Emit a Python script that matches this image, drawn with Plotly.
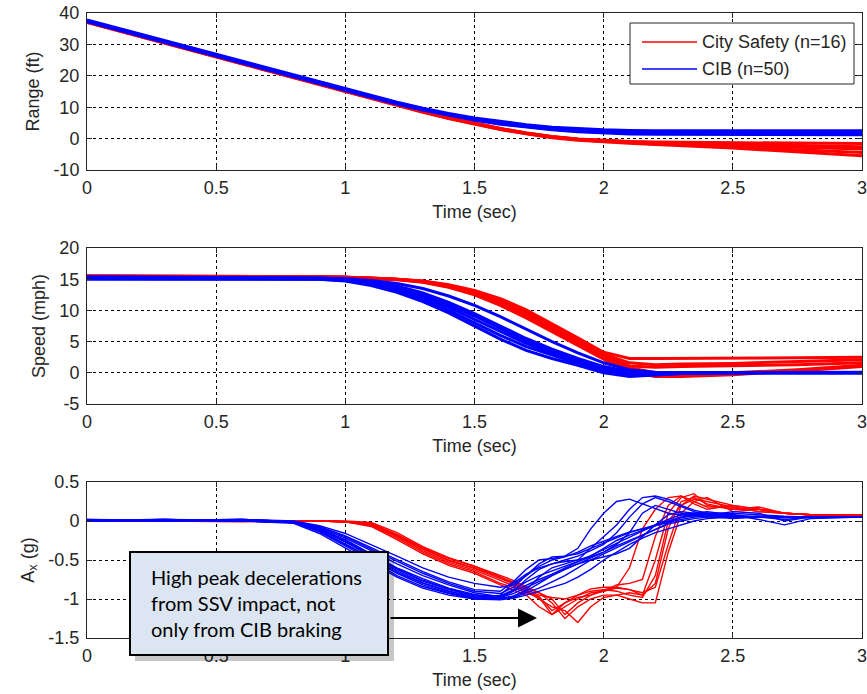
import plotly.graph_objects as go

W, H = 867, 694
OFF = 0  # body margin removed via post_script

# ---------------- data ----------------
# Range (ft)
T_RANGE = [0, 0.5, 1.0, 1.1, 1.2, 1.3, 1.4, 1.5, 1.6, 1.7, 1.8, 1.9, 2.0, 2.1, 2.2, 2.5, 3.0]
RANGE_CITY = [
    [37.3, 26.3, 15.2, 13.0, 10.8, 8.7, 6.7, 4.9, 3.2, 1.8, 0.7, -0.1, -0.6, -0.9, -1.1, -1.3, -1.6],
    [37.1, 26.1, 15.0, 12.8, 10.6, 8.5, 6.5, 4.7, 3.0, 1.6, 0.5, -0.3, -0.9, -1.2, -1.5, -2.2, -3.3],
    [37.0, 26.0, 14.9, 12.7, 10.5, 8.4, 6.4, 4.6, 2.9, 1.5, 0.3, -0.5, -1.1, -1.5, -1.9, -3.0, -5.5],
    [37.2, 26.2, 15.1, 12.9, 10.7, 8.6, 6.6, 4.8, 3.1, 1.7, 0.6, -0.2, -0.7, -1.0, -1.3, -1.8, -2.6],
    [37.3, 26.3, 15.2, 13.0, 10.8, 8.7, 6.7, 4.9, 3.2, 1.8, 0.6, -0.2, -0.8, -1.2, -1.6, -2.6, -4.4],
]
RANGE_CIB = [
    [37.2, 26.2, 15.2, 13.1, 11.0, 9.1, 7.4, 5.9, 4.6, 3.6, 2.8, 2.2, 1.8, 1.5, 1.4, 1.3, 1.2],
    [37.5, 26.5, 15.5, 13.3, 11.3, 9.4, 7.7, 6.2, 5.0, 4.0, 3.3, 2.8, 2.5, 2.3, 2.2, 2.1, 2.1],
    [37.8, 26.8, 15.8, 13.6, 11.6, 9.7, 8.0, 6.6, 5.4, 4.4, 3.6, 3.1, 2.8, 2.6, 2.5, 2.5, 2.5],
    [37.4, 26.4, 15.4, 13.2, 11.1, 9.2, 7.5, 6.0, 4.8, 3.8, 3.0, 2.4, 2.0, 1.8, 1.7, 1.7, 1.6],
]

# Speed (mph)
T_SPEED = [0, 0.5, 0.9, 1.0, 1.1, 1.2, 1.3, 1.4, 1.5, 1.6, 1.7, 1.8, 1.9, 2.0, 2.1, 2.2, 2.3, 2.5, 2.75, 3.0]
SPEED_CITY = [
    [15.5, 15.5, 15.4, 15.3, 15.2, 15.0, 14.7, 14.1, 13.2, 11.9, 10.1, 7.9, 5.6, 3.3, 2.3, 2.3, 2.3, 2.4, 2.4, 2.5],
    [15.4, 15.4, 15.3, 15.3, 15.2, 15.0, 14.6, 13.9, 12.8, 11.3, 9.4, 7.2, 5.0, 2.8, 1.1, 0.9, 1.0, 1.1, 1.3, 1.6],
    [15.5, 15.5, 15.4, 15.3, 15.1, 14.9, 14.5, 13.7, 12.5, 10.8, 8.8, 6.6, 4.3, 2.2, 0.2, -0.6, -0.6, -0.3, 0.3, 1.0],
    [15.4, 15.4, 15.4, 15.3, 15.2, 15.0, 14.7, 14.0, 12.9, 11.5, 9.7, 7.5, 5.2, 3.0, 1.6, 1.3, 1.4, 1.5, 1.8, 2.1],
    [15.5, 15.5, 15.4, 15.3, 15.2, 15.0, 14.6, 13.8, 12.6, 11.0, 9.0, 6.8, 4.6, 2.5, 0.8, 0.0, -0.3, 0.0, 0.5, 1.2],
]
SPEED_CIB = [
    [15.0, 15.0, 15.0, 14.7, 14.0, 12.9, 11.4, 9.6, 7.5, 5.4, 3.6, 2.3, 1.2, 0.0, -0.6, -0.3, -0.1, 0.0, 0.0, 0.0],
    [15.2, 15.2, 15.1, 14.9, 14.3, 13.4, 12.1, 10.5, 8.6, 6.6, 4.7, 3.1, 1.8, 0.6, -0.1, -0.2, 0.0, 0.0, 0.0, 0.0],
    [15.4, 15.3, 15.2, 15.0, 14.6, 13.9, 12.8, 11.3, 9.5, 7.5, 5.5, 3.8, 2.3, 1.0, 0.2, 0.0, 0.0, 0.1, 0.1, 0.1],
    [15.3, 15.3, 15.2, 15.1, 14.8, 14.3, 13.5, 12.3, 10.8, 9.0, 7.0, 5.0, 3.2, 1.6, 0.5, 0.1, 0.0, 0.0, 0.0, 0.0],
    [15.1, 15.1, 15.0, 14.8, 14.2, 13.2, 11.8, 10.0, 8.0, 6.0, 4.2, 2.8, 1.5, 0.3, -0.4, -0.3, -0.1, 0.0, 0.0, 0.0],
    [15.2, 15.2, 15.1, 14.9, 14.4, 13.6, 12.4, 10.9, 9.1, 7.1, 5.1, 3.4, 2.0, 0.8, 0.0, -0.2, 0.0, 0.0, 0.0, 0.0],
]

# Longitudinal acceleration Ax (g)
T_ACCEL = [0, 0.3, 0.6, 0.8, 0.9, 1.0, 1.1, 1.2, 1.3, 1.4, 1.5, 1.6, 1.65, 1.7, 1.75, 1.8, 1.85,
           1.9, 1.95, 2.0, 2.05, 2.1, 2.15, 2.2, 2.25, 2.3, 2.35, 2.4, 2.5, 2.6, 2.7, 2.8, 3.0]
ACCEL_CITY = [
    [0.0, 0.0, 0.0, 0.0, 0.0, -0.01, -0.04, -0.18, -0.35, -0.5, -0.6, -0.72, -0.78, -0.86, -0.92, -1.0, -1.2,
     -1.05, -0.95, -0.9, -0.86, -0.88, -0.95, -0.5, 0.1, 0.3, 0.35, 0.2, 0.15, 0.18, 0.1, 0.08, 0.08],
    [0.0, 0.0, -0.01, 0.0, 0.0, -0.01, -0.05, -0.2, -0.38, -0.53, -0.63, -0.76, -0.83, -0.9, -0.97, -1.15, -1.05,
     -0.95, -0.87, -0.85, -0.85, -0.6, -0.1, 0.15, 0.3, 0.32, 0.22, 0.15, 0.2, 0.15, 0.1, 0.08, 0.08],
    [0.0, 0.0, 0.0, 0.0, 0.0, 0.0, -0.02, -0.15, -0.33, -0.47, -0.58, -0.7, -0.76, -0.84, -0.92, -1.05, -1.25,
     -1.1, -1.0, -0.95, -0.95, -1.0, -1.05, -1.05, -0.4, 0.1, 0.25, 0.3, 0.12, 0.15, 0.1, 0.08, 0.08],
    [0.0, 0.0, 0.0, 0.0, 0.0, -0.01, -0.06, -0.22, -0.4, -0.55, -0.65, -0.8, -0.85, -0.92, -0.98, -1.2, -1.1,
     -1.0, -0.92, -0.9, -0.82, -0.8, -0.75, -0.2, 0.2, 0.32, 0.25, 0.18, 0.18, 0.12, 0.1, 0.08, 0.08],
    [0.0, 0.0, 0.0, 0.0, 0.0, -0.01, -0.03, -0.17, -0.34, -0.48, -0.58, -0.72, -0.8, -0.9, -1.0, -1.1, -1.15,
     -1.3, -1.1, -0.98, -0.95, -0.92, -0.95, -0.8, -0.1, 0.25, 0.3, 0.22, 0.15, 0.15, 0.1, 0.08, 0.08],
    [0.0, 0.0, 0.0, 0.0, 0.0, -0.01, -0.05, -0.19, -0.36, -0.51, -0.61, -0.74, -0.8, -0.88, -0.95, -0.98, -1.0,
     -0.95, -0.9, -0.88, -0.9, -0.95, -0.98, -0.7, 0.0, 0.2, 0.28, 0.25, 0.18, 0.12, 0.1, 0.08, 0.08],
    [0.0, 0.0, 0.0, 0.0, 0.0, -0.01, -0.07, -0.24, -0.42, -0.57, -0.67, -0.82, -0.88, -0.95, -1.1, -1.2, -1.05,
     -0.98, -0.95, -0.88, -0.85, -0.88, -0.92, -0.85, -0.3, 0.2, 0.32, 0.28, 0.2, 0.15, 0.1, 0.08, 0.08],
]
ACCEL_CIB = [
    [0.01, 0.02, 0.0, -0.02, -0.14, -0.32, -0.5, -0.7, -0.84, -0.93, -1.0, -1.01, -0.99, -0.95, -0.9, -0.85, -0.8,
     -0.72, -0.62, -0.5, -0.4, -0.3, -0.22, -0.15, -0.1, -0.05, 0.0, 0.03, 0.05, 0.06, 0.05, 0.05, 0.05],
    [0.0, 0.01, 0.02, -0.01, -0.1, -0.26, -0.44, -0.62, -0.77, -0.88, -0.96, -0.98, -0.93, -0.85, -0.78, -0.7, -0.62,
     -0.55, -0.48, -0.4, -0.32, -0.25, -0.17, -0.1, -0.04, 0.0, 0.03, 0.05, 0.07, 0.05, 0.04, 0.05, 0.05],
    [0.02, 0.0, 0.01, -0.01, -0.08, -0.22, -0.38, -0.55, -0.7, -0.82, -0.92, -0.97, -0.9, -0.75, -0.62, -0.55, -0.5,
     -0.45, -0.38, -0.3, -0.15, 0.05, 0.22, 0.3, 0.25, 0.18, 0.12, 0.08, 0.05, 0.06, 0.05, 0.04, 0.05],
    [0.01, 0.02, 0.0, -0.02, -0.12, -0.29, -0.47, -0.66, -0.8, -0.9, -0.98, -0.95, -0.8, -0.68, -0.6, -0.55, -0.52,
     -0.5, -0.45, -0.35, -0.25, -0.18, -0.12, -0.06, 0.0, 0.04, 0.07, 0.1, 0.08, 0.02, -0.05, 0.03, 0.05],
    [0.0, 0.01, 0.02, 0.0, -0.06, -0.16, -0.3, -0.45, -0.6, -0.72, -0.8, -0.85, -0.82, -0.7, -0.55, -0.46, -0.45,
     -0.42, -0.35, -0.28, -0.22, -0.15, -0.1, -0.05, 0.0, 0.05, 0.08, 0.1, 0.1, 0.08, 0.06, 0.05, 0.05],
    [0.01, 0.0, 0.02, -0.01, -0.1, -0.24, -0.42, -0.6, -0.74, -0.86, -0.94, -0.99, -0.97, -0.88, -0.72, -0.6, -0.55,
     -0.5, -0.35, -0.2, -0.05, 0.15, 0.3, 0.32, 0.28, 0.2, 0.14, 0.1, 0.06, 0.05, 0.05, 0.05, 0.05],
    [0.0, 0.02, 0.01, -0.02, -0.13, -0.3, -0.48, -0.67, -0.82, -0.92, -0.99, -1.0, -0.96, -0.9, -0.8, -0.7, -0.62,
     -0.55, -0.5, -0.46, -0.42, -0.35, -0.2, -0.05, 0.08, 0.12, 0.1, 0.06, 0.03, 0.05, 0.05, 0.05, 0.05],
    [0.01, 0.01, 0.0, -0.01, -0.09, -0.2, -0.36, -0.52, -0.67, -0.8, -0.9, -0.93, -0.85, -0.7, -0.58, -0.5, -0.46,
     -0.4, -0.32, -0.26, -0.2, -0.14, -0.1, -0.06, -0.02, 0.02, 0.05, 0.07, 0.12, 0.1, 0.0, 0.05, 0.05],
    [0.0, 0.02, 0.0, -0.03, -0.16, -0.35, -0.53, -0.72, -0.86, -0.95, -1.0, -0.98, -0.9, -0.82, -0.75, -0.68, -0.6,
     -0.52, -0.44, -0.36, -0.28, -0.2, -0.12, -0.05, 0.02, 0.08, 0.1, 0.08, 0.05, 0.05, 0.05, 0.05, 0.05],
    [0.01, 0.0, 0.01, -0.01, -0.07, -0.19, -0.34, -0.5, -0.65, -0.78, -0.88, -0.9, -0.78, -0.62, -0.5, -0.48, -0.45,
     -0.35, -0.1, 0.1, 0.25, 0.28, 0.22, 0.15, 0.1, 0.08, 0.06, 0.05, 0.05, 0.05, 0.05, 0.05, 0.05],
    [0.0, 0.01, 0.0, -0.02, -0.11, -0.27, -0.45, -0.64, -0.79, -0.9, -0.97, -1.0, -0.98, -0.92, -0.86, -0.78, -0.7,
     -0.6, -0.5, -0.42, -0.34, -0.26, -0.18, -0.1, -0.02, 0.05, 0.1, 0.12, 0.08, 0.05, 0.05, 0.05, 0.05],
    [0.02, 0.01, 0.02, -0.01, -0.1, -0.25, -0.43, -0.61, -0.76, -0.87, -0.95, -0.96, -0.88, -0.78, -0.7, -0.64, -0.58,
     -0.52, -0.46, -0.4, -0.3, -0.15, 0.1, 0.2, 0.15, 0.1, 0.08, 0.06, 0.05, 0.05, 0.02, 0.05, 0.05],
]

SERIES_NAMES = ["City Safety (n=16)", "CIB (n=50)"]
X_TICKS = [0, 0.5, 1, 1.5, 2, 2.5, 3]
X_TICK_TEXT = ["0", "0.5", "1", "1.5", "2", "2.5", "3"]
Y_TICKS_RANGE = [-10, 0, 10, 20, 30, 40]
Y_TICKS_SPEED = [-5, 0, 5, 10, 15, 20]
Y_TICKS_ACCEL = [-1.5, -1, -0.5, 0, 0.5]
Y_TICK_TEXT_ACCEL = ["-1.5", "-1", "-0.5", "0", "0.5"]
NOTE_TEXT = "High peak decelerations<br>from SSV impact, not<br>only from CIB braking"

RED = "#ff0000"
BLUE = "#0000ff"
FONT = "Liberation Sans, Arial, sans-serif"
TXT = "#262626"
FS = 18

fig = go.Figure()

def add_group(t, groups, color, width, xa, ya):
    for ys in groups:
        fig.add_trace(go.Scatter(x=t, y=ys, mode="lines", line=dict(color=color, width=width),
                                 showlegend=False, hoverinfo="skip", xaxis=xa, yaxis=ya))

add_group(T_RANGE, RANGE_CITY, RED, 3, "x", "y")
add_group(T_RANGE, RANGE_CIB, BLUE, 3, "x", "y")
add_group(T_SPEED, SPEED_CITY, RED, 3, "x2", "y2")
add_group(T_SPEED, SPEED_CIB, BLUE, 3, "x2", "y2")
add_group(T_ACCEL, ACCEL_CITY, RED, 1.4, "x3", "y3")
add_group(T_ACCEL, ACCEL_CIB, BLUE, 1.4, "x3", "y3")

def px_x(p):
    return (p - OFF) / W

def px_y(p):
    return 1 - (p - OFF) / H

xdom = [px_x(87), px_x(862)]
doms = [(13, 170), (248, 404), (482, 638)]

def xaxis(anchor):
    return dict(domain=xdom, anchor=anchor, range=[0, 3], tickvals=X_TICKS, ticktext=X_TICK_TEXT,
                showgrid=True, gridcolor="#000000", griddash="3px,3px", gridwidth=1,
                showline=True, linecolor=TXT, linewidth=1, mirror="allticks",
                ticks="inside", ticklen=5, tickcolor=TXT, ticklabeloverflow="allow",
                tickfont=dict(family=FONT, size=FS, color=TXT), ticklabelstandoff=1,
                title=dict(text="Time (sec)", font=dict(family=FONT, size=FS, color=TXT), standoff=8),
                zeroline=False, automargin=False, fixedrange=True)

def yaxis(anchor, dom, rng, tv, tt, title):
    return dict(domain=[px_y(dom[1]), px_y(dom[0])], anchor=anchor, range=rng, tickvals=tv, ticktext=tt,
                showgrid=True, gridcolor="#000000", griddash="3px,3px", gridwidth=1,
                showline=True, linecolor=TXT, linewidth=1, mirror="allticks",
                ticks="inside", ticklen=5, tickcolor=TXT, ticklabeloverflow="allow",
                tickfont=dict(family=FONT, size=FS, color=TXT), ticklabelstandoff=3,
                title=dict(text=title, font=dict(family=FONT, size=FS, color=TXT), standoff=9),
                zeroline=False, automargin=False, fixedrange=True)

shapes = []
annotations = []

# legend box
shapes.append(dict(type="rect", xref="paper", yref="paper", x0=px_x(630), x1=px_x(854),
                   y0=px_y(84), y1=px_y(23), line=dict(color=TXT, width=1), fillcolor="white", layer="above"))
for i, (name, col) in enumerate(zip(SERIES_NAMES, [RED, BLUE])):
    yy = [42, 69][i]
    shapes.append(dict(type="line", xref="paper", yref="paper", x0=px_x(642), x1=px_x(697),
                       y0=px_y(yy), y1=px_y(yy), line=dict(color=col, width=1.5), layer="above"))
    annotations.append(dict(xref="paper", yref="paper", x=px_x(700), y=px_y(yy), text=name,
                            showarrow=False, xanchor="left", yanchor="middle",
                            font=dict(family=FONT, size=FS, color=TXT)))

# callout box with shadow
shapes.append(dict(type="rect", xref="paper", yref="paper", x0=px_x(135), x1=px_x(394),
                   y0=px_y(661), y1=px_y(558), line=dict(width=0), fillcolor="rgba(0,0,0,0.22)", layer="above"))
shapes.append(dict(type="rect", xref="paper", yref="paper", x0=px_x(130), x1=px_x(388),
                   y0=px_y(655), y1=px_y(552), line=dict(color="#000000", width=2),
                   fillcolor="#dce6f2", layer="above"))
annotations.append(dict(xref="paper", yref="paper", x=px_x(149), y=px_y(603), text=NOTE_TEXT,
                        showarrow=False, xanchor="left", yanchor="middle", align="left",
                        font=dict(family="Lato, Open Sans, sans-serif", size=20, color="#000000")))
# arrow
annotations.append(dict(xref="x3", yref="y3", axref="x3", ayref="y3",
                        x=1.742, y=-1.244, ax=(389 - 87) / 258.3, ay=-1.244, text="",
                        showarrow=True, arrowhead=2, arrowsize=1.9, arrowwidth=2, arrowcolor="#000000"))

fig.update_layout(
    width=W, height=H, margin=dict(l=0, r=0, t=0, b=0),
    paper_bgcolor="white", plot_bgcolor="white", showlegend=False,
    xaxis=xaxis("y"), xaxis2=xaxis("y2"), xaxis3=xaxis("y3"),
    yaxis=yaxis("x", doms[0], [-10, 40], Y_TICKS_RANGE, [str(v) for v in Y_TICKS_RANGE], "Range (ft)"),
    yaxis2=yaxis("x2", doms[1], [-5, 20], Y_TICKS_SPEED, [str(v) for v in Y_TICKS_SPEED], "Speed (mph)"),
    yaxis3=yaxis("x3", doms[2], [-1.5, 0.5], Y_TICKS_ACCEL, Y_TICK_TEXT_ACCEL, "A<sub>x</sub> (g)"),
    shapes=shapes, annotations=annotations,
)

fig.write_html("out.html", config={"displayModeBar": False},
               post_script="document.body.style.margin='0px';document.body.style.overflow='hidden';")
